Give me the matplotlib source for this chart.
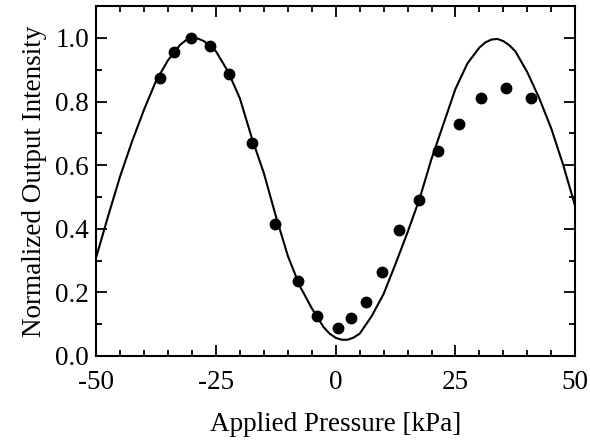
import numpy as np
import matplotlib.pyplot as plt
from matplotlib.ticker import MultipleLocator

# measured intensity (dots)
pressure = [-36.6, -33.7, -30.2, -26.3, -22.2, -17.4, -12.6, -7.9, -3.9, 0.4,
            3.2, 6.4, 9.7, 13.3, 17.3, 21.3, 25.7, 30.4, 35.5, 40.7]
intensity = [0.874, 0.955, 0.999, 0.975, 0.887, 0.671, 0.414, 0.236, 0.126, 0.087,
             0.118, 0.171, 0.265, 0.396, 0.490, 0.646, 0.731, 0.810, 0.842, 0.810]

# theoretical curve
curve_x = [-50, -47.5, -45, -42.5, -40, -37.5, -35, -32.5, -31.25, -30, -28.75, -27.5,
           -25, -22.5, -20, -17.5, -15, -12.5, -10, -7.5, -5, -2.5,
           -1.25, 0, 1.25, 2.5, 3.75, 5, 7.5, 10, 12.5, 15, 17.5, 20, 22.5,
           25, 27.5, 30, 31.25, 32.5, 33.75, 35, 36.25, 37.5, 40, 42.5, 45, 47.5, 50]
curve_y = [0.31, 0.44, 0.565, 0.675, 0.775, 0.865, 0.93, 0.978, 0.993, 1.0, 0.998, 0.99,
           0.958, 0.895, 0.81, 0.685, 0.575, 0.44, 0.315, 0.22, 0.15, 0.09,
           0.07, 0.057, 0.051, 0.051, 0.058, 0.07, 0.125, 0.195, 0.29, 0.389, 0.494, 0.62, 0.73,
           0.84, 0.92, 0.97, 0.986, 0.995, 0.997, 0.99, 0.977, 0.958, 0.892, 0.81, 0.715, 0.6, 0.47]

plt.rcParams['font.family'] = ['Liberation Serif', 'DejaVu Serif']

fig = plt.figure(figsize=(5.9, 4.4), dpi=100)
ax = fig.add_axes([0.163, 0.191, 0.812, 0.795])

ax.plot(curve_x, curve_y, color='black', lw=1.5)
ax.plot(pressure, intensity, 'o', color='black', ms=7.5)

ax.set_xlim(-50, 50)
ax.set_ylim(0, 1.1)
ax.xaxis.set_minor_locator(MultipleLocator(5))
ax.yaxis.set_minor_locator(MultipleLocator(0.1))
ax.set_xticks([-50, -25, 0, 25, 50])
ax.set_xticklabels(['-50', '-25', '0', '25', '50'])
ax.set_yticks([0, 0.2, 0.4, 0.6, 0.8, 1.0])
ax.set_yticklabels(['0.0', '0.2', '0.4', '0.6', '0.8', '1.0'])

ax.tick_params(which='both', direction='in', top=True, right=True,
               width=1.3, labelsize=19.5)
ax.tick_params(which='major', length=8)
ax.tick_params(which='minor', length=4)
ax.tick_params(axis='x', pad=10)
ax.tick_params(axis='y', pad=5)
for s in ax.spines.values():
    s.set_linewidth(1.5)

ax.set_xlabel('Applied Pressure [kPa]', fontsize=19.5, labelpad=12)
ax.set_ylabel('Normalized Output Intensity', fontsize=19.5, labelpad=6)

fig.savefig('out.png', dpi=100)
